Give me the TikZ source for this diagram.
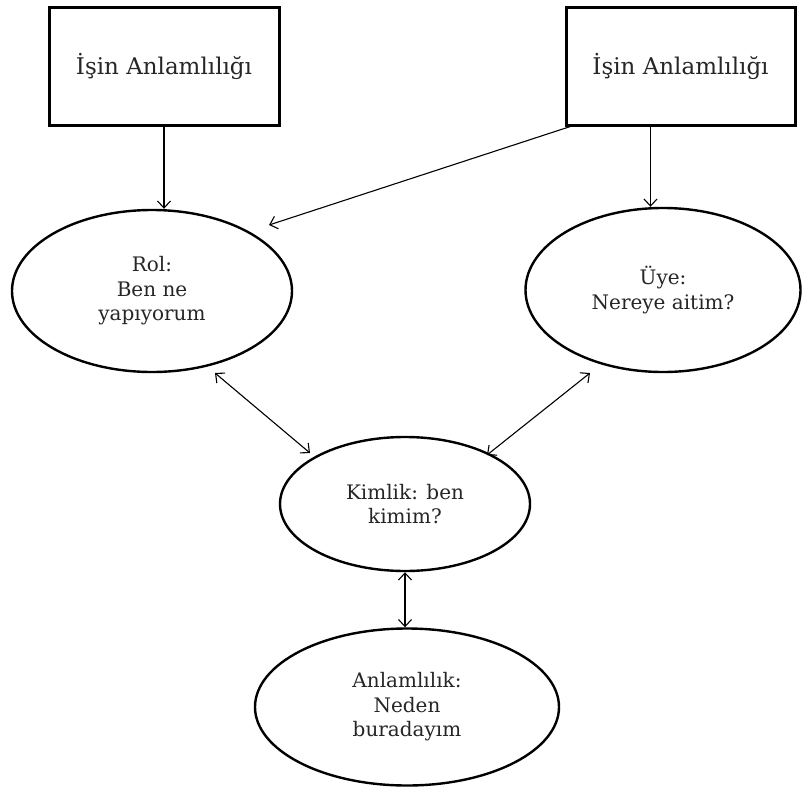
\documentclass[tikz,border=0pt]{standalone}
\usepackage{fontspec}
\setmainfont{DejaVu Serif}
\usetikzlibrary{shapes.geometric,arrows.meta,calc}
\begin{document}
\begin{tikzpicture}[x=1pt,y=-1pt,
  lbl/.style={font=\fontsize{20}{24.5}\selectfont, text=black!85, align=center},
  srcbox/.style={draw, line width=3pt, lbl, font=\fontsize{23}{27}\selectfont, minimum width=230pt, minimum height=117pt, inner sep=0pt},
  oval/.style={draw, ellipse, line width=2.4pt, lbl, inner sep=0pt},
  arr/.style={-{Straight Barb[length=7pt,width=13pt]}, line width=1.1pt},
  dbl/.style={{Straight Barb[length=7pt,width=13pt]}-{Straight Barb[length=7pt,width=13pt]}, line width=1.1pt}]
  \useasboundingbox (0,0) rectangle (802,789);

  % source boxes
  \node[srcbox] (b1) at (164,66.5) {İşin Anlamlılığı};
  \node[srcbox, minimum width=229pt] (b2) at (680.5,66.5) {İşin Anlamlılığı};

  % ovals
  \node[oval, minimum width=280pt, minimum height=162pt] (r) at (152,291) {Rol:\\Ben ne\\yapıyorum};
  \node[oval, minimum width=275pt, minimum height=164pt] (u) at (663,290) {Üye:\\Nereye aitim?};
  \node[oval, minimum width=250pt, minimum height=134pt] (k) at (405,504) {Kimlik: ben\\kimim?};
  \node[oval, minimum width=304pt, minimum height=157pt] (a) at (407,707) {Anlamlılık:\\Neden\\buradayım};

  % connectors
  \draw[arr] (b1) -- (b1 |- r.north);
  \draw[arr] ([xshift=-30pt]b2.south) -- ([xshift=-30pt]b2.south |- u.north);
  \coordinate (diagtip) at ($(r.center)+(117,-66)$);
  \draw[arr] ([xshift=12pt,yshift=2pt]b2.south west) -- (diagtip);

  \coordinate (rk1) at ($(r.center)+(63,82)$);
  \coordinate (rk2) at ($(k.center)+(-95,-51)$);
  \draw[dbl] (rk1) -- (rk2);
  \coordinate (uk1) at ($(u.center)+(-73,83)$);
  \coordinate (uk2) at ($(k.center)+(82,-49)$);
  \draw[dbl] (uk1) -- (uk2);
  \draw[dbl] (k.south) -- (k.south |- a.north);
\end{tikzpicture}
\end{document}
